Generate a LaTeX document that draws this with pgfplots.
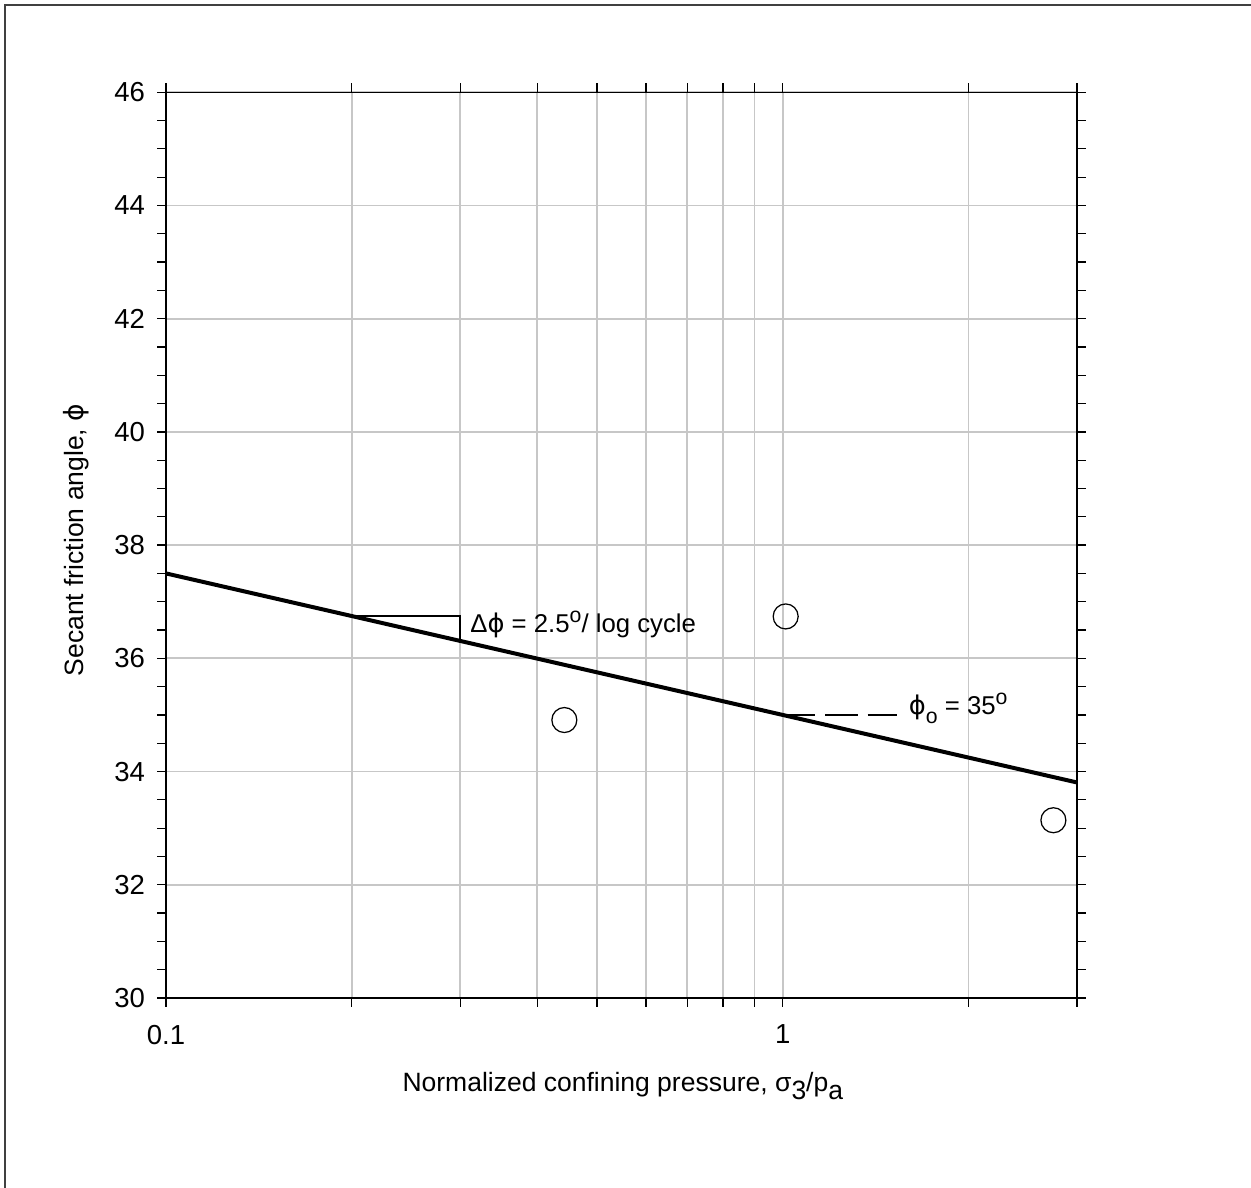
\documentclass[border=0pt]{standalone}
\usepackage{fontspec}
\setmainfont{Liberation Sans}
\newfontfamily\dejavu{DejaVu Sans}
\usepackage{pgfplots}
\pgfplotsset{compat=1.18}
\newcommand{\phisym}{{\dejavu\symbol{"03D5}}}
\newcommand{\degsup}{\raisebox{4pt}{\fontsize{8.5pt}{10pt}\selectfont o}}
\begin{document}
\begin{tikzpicture}
\useasboundingbox (-66.4pt,-76pt) rectangle (434pt,399.2pt);
\draw[line width=0.8pt, black!75] (-64.4pt,-76pt) -- (-64.4pt,397.2pt) -- (434pt,397.2pt);
\begin{axis}[
  at={(0pt,0pt)}, anchor=south west,
  scale only axis, width=364.4pt, height=362.3pt,
  xmode=log, xmin=0.1, xmax=3, ymin=30, ymax=46,
  xtick={0.1,1}, xticklabels={0.1,1},
  minor xtick={0.2,0.3,0.4,0.5,0.6,0.7,0.8,0.9,2,3},
  ytick={30,32,...,46}, minor y tick num=3,
  xmajorgrids, xminorgrids, ymajorgrids,
  grid style={black!22, line width=0.7pt},
  tick align=outside, tick pos=both,
  major tick length=3.6pt, minor tick length=3.6pt,
  every tick/.style={black, line width=0.5pt},
  axis line style={line width=0.5pt},
  /pgf/number format/assume math mode=true,
  ticklabel style={font=\fontsize{11pt}{13pt}\selectfont},
  xticklabel style={yshift=-3.6pt},
  yticklabel style={xshift=-1.3pt},
  clip=false,
]
\addplot[black, line width=1.6pt] coordinates {(0.1,37.5) (3,33.807)};
\addplot[black, line width=0.8pt] coordinates {(0.2,36.747) (0.3,36.747) (0.3,36.307)};
\addplot[black, line width=0.8pt, dash pattern=on 13pt off 4pt] coordinates {(1,35) (1.53,35)};
\addplot[only marks, mark=o, mark size=5pt, mark options={line width=0.5pt, black}] coordinates {(0.4425,34.91) (1.011,36.74) (2.747,33.14)};
\node[anchor=base west, inner sep=0, font=\fontsize{10.3pt}{12pt}\selectfont] at (axis cs:0.311,36.45) {Δ\phisym\ = 2.5\degsup/ log cycle};
\node[anchor=base west, inner sep=0, font=\fontsize{10.3pt}{12pt}\selectfont] at (axis cs:1.599,35.0) {\phisym\raisebox{-3.6pt}{\fontsize{8.5pt}{10pt}\selectfont o} = 35\degsup};
\end{axis}
\node[anchor=base west, inner sep=0, font=\fontsize{10.6pt}{12pt}\selectfont] at (94.4pt,-37.6pt) {Normalized confining pressure, σ\raisebox{-0.55ex}{3}/p\raisebox{-0.55ex}{a}};
\node[rotate=90, anchor=base west, inner sep=0, font=\fontsize{10.6pt}{12pt}\selectfont] at (-33.1pt,128.5pt) {Secant friction angle, \phisym};
\end{tikzpicture}
\end{document}
